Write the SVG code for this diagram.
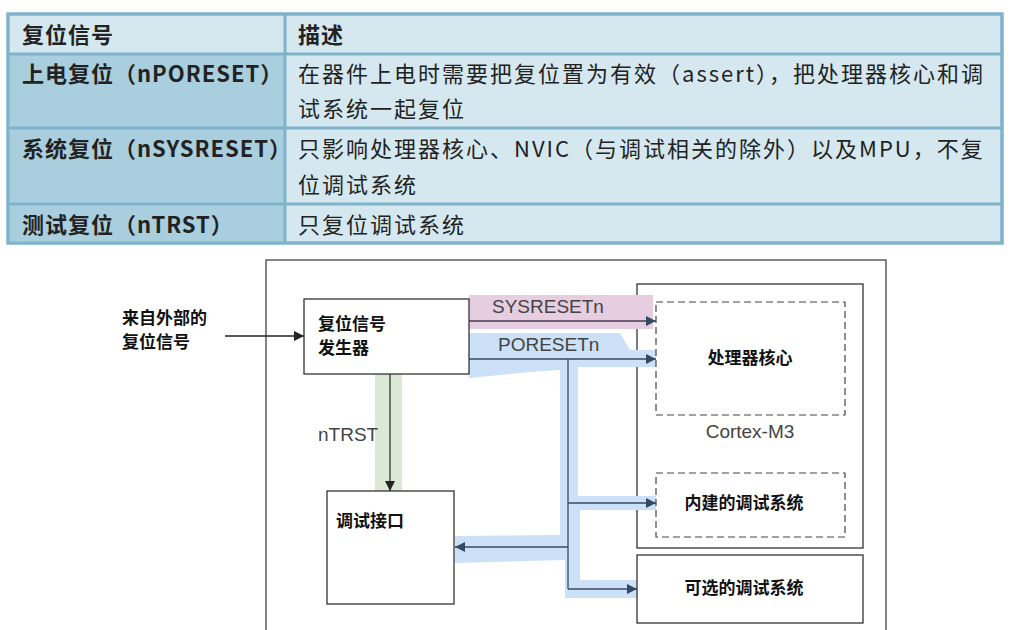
<svg xmlns="http://www.w3.org/2000/svg" width="1015" height="630" viewBox="0 0 1015 630">
<style>
.t{font-family:"Noto Sans CJK SC","Liberation Sans",sans-serif;font-size:22px;fill:#222;letter-spacing:2px}
.b{font-weight:bold;letter-spacing:1px}
.d{font-family:"Noto Sans CJK SC","Liberation Sans",sans-serif;font-size:17px;font-weight:bold;fill:#111}
.l{font-family:"Liberation Sans",sans-serif;font-size:19px;fill:#444}
.box{fill:#fff;stroke:#333;stroke-width:1.3}
.dash{fill:none;stroke:#444;stroke-width:1.2;stroke-dasharray:7 4}
.ln{stroke:#344a63;stroke-width:1.3;fill:none}
</style>
<defs>
<marker id="a" viewBox="0 0 10 10" refX="10" refY="5" markerWidth="8" markerHeight="8" orient="auto"><path d="M0,0L10,5L0,10z" fill="#344a63"/></marker>
<marker id="k" viewBox="0 0 10 10" refX="10" refY="5" markerWidth="8" markerHeight="8" orient="auto"><path d="M0,0L10,5L0,10z" fill="#222"/></marker>
</defs>
<g id="table">
<rect x="8" y="14" width="994" height="229" fill="#d5e8f0" stroke="#7fb3cc" stroke-width="3"/>
<rect x="8" y="54" width="277" height="189" fill="#a9cfdf"/>
<g stroke="#7fb3cc" stroke-width="3">
<line x1="285" y1="14" x2="285" y2="243"/>
<line x1="8" y1="54" x2="1002" y2="54"/>
<line x1="8" y1="128" x2="1002" y2="128"/>
<line x1="8" y1="204" x2="1002" y2="204"/>
</g>
<rect x="8" y="14" width="994" height="229" fill="none" stroke="#7fb3cc" stroke-width="3"/>
<text class="t b" x="22" y="43">复位信号</text>
<text class="t b" x="298" y="43">描述</text>
<text class="t b" x="22" y="82">上电复位（nPORESET）</text>
<text class="t" x="298" y="82">在器件上电时需要把复位置为有效（assert），把处理器核心和调</text>
<text class="t" x="298" y="117">试系统一起复位</text>
<text class="t b" x="22" y="157">系统复位（nSYSRESET）</text>
<text class="t" x="298" y="157">只影响处理器核心、NVIC（与调试相关的除外）以及MPU，不复</text>
<text class="t" x="298" y="193">位调试系统</text>
<text class="t b" x="22" y="233">测试复位（nTRST）</text>
<text class="t" x="298" y="233">只复位调试系统</text>
</g>
<rect x="266" y="260" width="620" height="380" fill="#fff" stroke="#444" stroke-width="1.3"/>
<g id="cortex"><rect class="box" x="637" y="284" width="226" height="264"/><text class="l" x="750" y="438" text-anchor="middle">Cortex-M3</text></g>
<g id="bands">
<rect x="469" y="295" width="184" height="34" fill="#e6cde0"/>
<path d="M469,333 L620,333 L630,350 L656,350 L656,367 L578,367 L578,496 L656,496 L656,510 L580,510 L580,580 L637,580 L637,598 L565,598 L565,560 L455,563 L455,536 L560,535 L560,370 L530,372 L469,378 Z" fill="#cce1f7"/>
<rect x="375" y="374" width="27" height="117" fill="#dce8d6"/>
</g>
<g id="connectors">
<line class="ln" x1="225" y1="336" x2="304" y2="336" marker-end="url(#k)" style="stroke:#222"/>
<line class="ln" x1="469" y1="321" x2="656" y2="321" marker-end="url(#a)" style="stroke:#4a3a55"/>
<line class="ln" x1="469" y1="359" x2="656" y2="359" marker-end="url(#a)"/>
<line class="ln" x1="568" y1="359" x2="568" y2="589"/>
<line class="ln" x1="568" y1="503" x2="656" y2="503" marker-end="url(#a)"/>
<line class="ln" x1="568" y1="547" x2="455" y2="547" marker-end="url(#a)"/>
<line class="ln" x1="568" y1="589" x2="637" y2="589" marker-end="url(#a)"/>
<line class="ln" x1="390" y1="374" x2="390" y2="491" marker-end="url(#k)" style="stroke:#2d3a28"/>
<text class="l" x="492" y="313">SYSRESETn</text>
<text class="l" x="498" y="351">PORESETn</text>
<text class="l" x="318" y="441">nTRST</text>
</g>
<g id="ext"><text class="d" x="122" y="324">来自外部的</text><text class="d" x="122" y="348">复位信号</text></g>
<g id="gen"><rect class="box" x="304" y="299" width="165" height="75"/><text class="d" x="318" y="330">复位信号</text><text class="d" x="318" y="354">发生器</text></g>
<g id="core"><rect class="dash" x="656" y="302" width="189" height="113"/><text class="d" x="750" y="364" text-anchor="middle">处理器核心</text></g>
<g id="builtin"><rect class="dash" x="656" y="473" width="189" height="64"/><text class="d" x="744" y="509" text-anchor="middle">内建的调试系统</text></g>
<g id="optional"><rect class="box" x="637" y="555" width="226" height="68"/><text class="d" x="744" y="594" text-anchor="middle">可选的调试系统</text></g>
<g id="dbg"><rect class="box" x="327" y="491" width="127" height="113"/><text class="d" x="336" y="527">调试接口</text></g>
</svg>
